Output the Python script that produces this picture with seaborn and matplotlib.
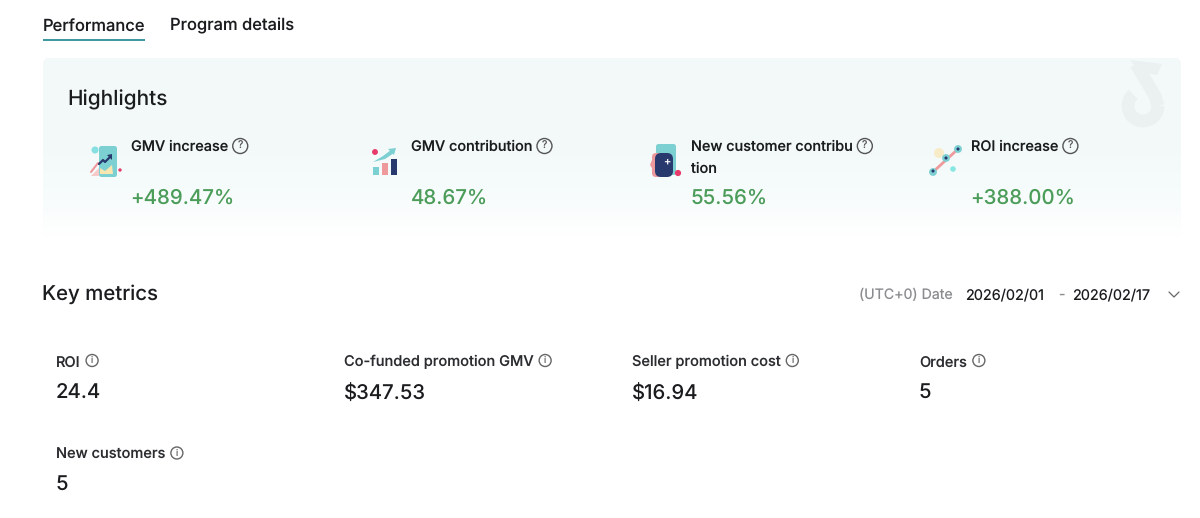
import numpy as np
import pandas as pd
import matplotlib
matplotlib.use("Agg")
import matplotlib.pyplot as plt
import seaborn as sns
from matplotlib.patches import FancyBboxPatch, Circle, Rectangle, Polygon

# Tabs
tabs = ["Performance", "Program details"]

# Highlights row
highlight_labels = ["GMV increase", "GMV contribution", "New customer contribu\ntion", "ROI increase"]
highlight_values = ["+489.47%", "48.67%", "55.56%", "+388.00%"]

# Key metrics
metric_labels = ["ROI", "Co-funded promotion GMV", "Seller promotion cost", "Orders", "New customers"]
metric_values = ["24.4", "$347.53", "$16.94", "5", "5"]

date_start = "2026/02/01"
date_end = "2026/02/17"

INK = "#1a1c1e"
GREEN = "#4c9c5a"
TEAL = "#3f9aa0"
ICON_TEAL = "#7dd0d2"
PINK = "#ee9a9c"
NAVY = "#28396e"
RED = "#e8396b"


def text_width(fig, t):
    return t.get_window_extent(fig.canvas.get_renderer()).width


def help_icon(ax, x, y, r=7, glyph="?", color="#555555", size=7.5):
    ax.add_patch(Circle((x, y), r, fill=False, ec=color, lw=1.0, zorder=5))
    ax.text(x, y + 0.3, glyph, ha="center", va="center", fontsize=size, color=color, zorder=5)


def draw_icons(ax):
    # icon 1
    ax.add_patch(Polygon([[91, 176], [99, 168], [99, 176]], fc="#f8c9c9", ec="none", zorder=2))
    ax.plot([91, 98], [172, 163], color=PINK, lw=1.5, zorder=2)
    ax.add_patch(FancyBboxPatch((99, 146), 18, 31, boxstyle="round,pad=0,rounding_size=2.5", fc=ICON_TEAL, ec="none", zorder=3))
    ax.add_patch(Polygon([[100, 174], [100, 168], [105, 171], [112, 165], [113, 174]], fc="#f7e6b0", ec="none", zorder=4))
    ax.plot([99, 103, 105, 111], [164, 160, 162, 156], color=NAVY, lw=1.6, zorder=5)
    ax.add_patch(Polygon([[107, 155], [112, 154], [112, 160]], fc=NAVY, ec="none", zorder=5))
    # icon 2
    for bx, by, bh, col in zip([373, 382, 391], [167, 163, 159], [8, 12, 16], [ICON_TEAL, PINK, NAVY]):
        ax.add_patch(Rectangle((bx, by), 6, bh, fc=col, ec="none", zorder=3))
    ax.add_patch(Polygon([[373, 162], [383, 156], [391, 150], [394, 153], [385, 159]], fc=ICON_TEAL, ec="none", zorder=3))
    ax.add_patch(Polygon([[388, 149], [396, 148], [394, 155]], fc=ICON_TEAL, ec="none", zorder=3))
    # icon 3
    ax.add_patch(FancyBboxPatch((656, 144), 20, 31, boxstyle="round,pad=0,rounding_size=2.5", fc=ICON_TEAL, ec="none", zorder=2))
    ax.add_patch(FancyBboxPatch((652, 153), 10, 24, boxstyle="round,pad=0,rounding_size=4", fc=PINK, ec="none", zorder=3))
    ax.add_patch(Polygon([[652, 160], [650, 165], [652, 168]], fc=PINK, ec="none", zorder=3))
    ax.add_patch(FancyBboxPatch((655, 153), 18, 24, boxstyle="round,pad=0,rounding_size=6", fc=NAVY, ec="none", zorder=4))
    ax.text(666.5, 162, "+", color="white", fontsize=8, ha="center", va="center", zorder=5)
    # icon 4
    ax.add_patch(Circle((939, 153), 5, fc="#f8ecc8", ec="none", zorder=2))
    ax.plot([933, 958], [172, 149], color=PINK, lw=2, zorder=3)

    # icon accent dots go through seaborn so scales stay the same
    dots = pd.DataFrame({
        "x": [95, 120, 375, 678, 933, 946, 958, 953, 933, 946, 958],
        "y": [150, 170, 152, 173, 172, 158, 149, 169, 171, 158, 149],
        "c": ["#86e0e2", RED, RED, RED, ICON_TEAL, ICON_TEAL, ICON_TEAL, "#86e6e0", NAVY, NAVY, NAVY],
        "s": [26, 6, 18, 20, 32, 32, 32, 16, 5, 5, 5],
    })
    sns.scatterplot(data=dots, x="x", y="y", hue="c", palette={c: c for c in dots["c"].unique()},
                    size="s", sizes=(5, 32), legend=False, linewidth=0, ax=ax, zorder=6)
    ax.axis("off")


def main():
    sns.set_theme(style="white")
    plt.rcParams["font.family"] = ["Inter", "DejaVu Sans"]
    plt.rcParams["text.hinting"] = "no_hinting"
    plt.rcParams["text.hinting_factor"] = 1

    fig = plt.figure(figsize=(12, 5.18), dpi=100, facecolor="white")
    ax = fig.add_axes([0, 0, 1, 1])
    ax.set_xlim(0, 1200)
    ax.set_ylim(518, 0)
    ax.axis("off")
    fig.canvas.draw()

    # tabs
    ax.text(43, 30.5, tabs[0], fontsize=11.9, color=INK, weight="medium")
    ax.text(170, 30, tabs[1], fontsize=11.9, color=INK, weight="medium")
    ax.add_patch(Rectangle((43, 39), 102, 2, color=TEAL, lw=0))

    # highlights panel with vertical fade
    panel = FancyBboxPatch((43, 58), 1138, 190, boxstyle="round,pad=0,rounding_size=6",
                           fc="none", ec="none")
    ax.add_patch(panel)
    fade = np.concatenate([np.zeros(80), np.linspace(0, 1, 100), np.ones(10)]).reshape(-1, 1)
    cmap = sns.blend_palette(["#f3f9f9", "#f6fbfb", "#ffffff"], as_cmap=True)
    img = ax.imshow(fade, extent=(43, 1181, 248, 58), aspect="auto", cmap=cmap, zorder=0)
    img.set_clip_path(panel)
    ax.set_xlim(0, 1200)
    ax.set_ylim(518, 0)

    # watermark note logo
    mark = "#ebf0f0"
    arc = np.radians(np.linspace(0, 230, 40))
    ax.plot(1143 + 15 * np.cos(arc), 106 + 15 * np.sin(arc), color=mark, lw=9.2, zorder=1, solid_capstyle="butt")
    ax.plot([1136, 1155, 1158], [64, 96, 106], color=mark, lw=9.2, zorder=1, solid_capstyle="butt")
    ax.add_patch(Polygon([[1130, 60], [1162, 64], [1157, 75], [1140, 72]], fc=mark, ec="none", zorder=1))

    ax.text(67.5, 105, "Highlights", fontsize=15, color=INK, weight="medium")

    # highlight cards
    xs = [131, 411, 691, 971]
    for x, label, value in zip(xs, highlight_labels, highlight_values):
        first = label.split("\n")[0]
        t = ax.text(x, 151, first, fontsize=10.4, color=INK, weight="medium")
        help_icon(ax, x + text_width(fig, t) + 12, 146, r=7.5)
        if "\n" in label:
            ax.text(x, 173, label.split("\n")[1], fontsize=10.4, color=INK, weight="medium")
        ax.text(x - 0.5 if value[0] == "+" else x, 204, value, fontsize=14.7, color=GREEN, weight="medium")

    draw_icons(ax)

    # key metrics
    ax.text(42.5, 300, "Key metrics", fontsize=14.7, color=INK, weight="medium")
    ax.text(859, 299, "(UTC+0) Date", fontsize=10.2, color="#8a8c8f")
    ax.text(965.5, 299, date_start, fontsize=10.4, color=INK)
    ax.text(1061, 299, "-", fontsize=10, color="#8a8c8f", ha="center")
    ax.text(1072.5, 299, date_end, fontsize=10.4, color=INK)
    ax.plot([1169, 1174, 1179], [292, 297, 292], color="#666666", lw=0.9)

    mx = [55.5, 343.5, 631.5, 919, 55.5]
    my = [366.5, 366.5, 366.5, 366.5, 459]
    for x, y, label, value in zip(mx, my, metric_labels, metric_values):
        t = ax.text(x, y, label, fontsize=10.5, color="#2b2d30", weight="medium")
        help_icon(ax, x + text_width(fig, t) + 12, y - 6, r=6, glyph="i", color="#666666", size=6.5)
        ax.text(x, y + 32, value, fontsize=14.6, color=INK, weight="medium")

    fig.savefig("out.png", dpi=100)


if __name__ == "__main__":
    main()
